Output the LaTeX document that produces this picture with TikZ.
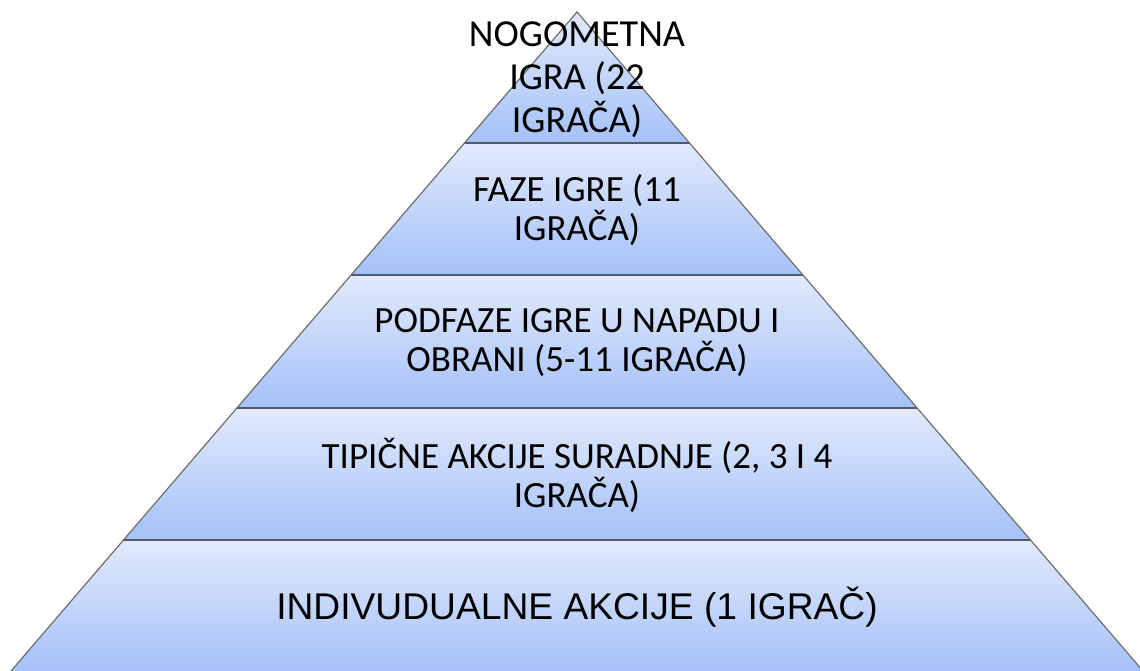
\documentclass[tikz,border=0pt]{standalone}
\usepackage{fontspec}
\newfontfamily\calibfont{Carlito}
\newfontfamily\arialfont{Liberation Sans}
\definecolor{bandtop}{RGB}{226,234,252}
\definecolor{bandbot}{RGB}{164,193,248}
\definecolor{sepcol}{RGB}{80,90,106}
\definecolor{edgecol}{RGB}{110,110,110}
\begin{document}
\begin{tikzpicture}[x=1pt,y=-1pt,
  band/.style={top color=bandtop,bottom color=bandbot},
  sepline/.style={draw=sepcol,line width=2.8pt},
  edge/.style={draw=edgecol,line width=1.2pt},
  lbl/.style={align=center,text=black,inner sep=0pt},
  cal/.style={lbl,font=\fontsize{37}{39}\calibfont},
  calt/.style={lbl,font=\fontsize{38.2}{43}\calibfont},
  ari/.style={lbl,font=\fontsize{37.2}{42}\arialfont}]
\useasboundingbox (0,0) rectangle (1140,671);
% boundary coordinates
\coordinate (apex) at (577,12);
\coordinate (l1) at (464.5,143); \coordinate (r1) at (689.5,143);
\coordinate (l2) at (351.1,275); \coordinate (r2) at (802.9,275);
\coordinate (l3) at (236.7,408); \coordinate (r3) at (917.3,408);
\coordinate (l4) at (123.4,540); \coordinate (r4) at (1030.6,540);
\coordinate (l5) at (11,671);   \coordinate (r5) at (1143,671);
% bands
\shade[band] (apex) -- (r1) -- (l1) -- cycle;
\shade[band] (l1) -- (r1) -- (r2) -- (l2) -- cycle;
\shade[band] (l2) -- (r2) -- (r3) -- (l3) -- cycle;
\shade[band] (l3) -- (r3) -- (r4) -- (l4) -- cycle;
\shade[band] (l4) -- (r4) -- (r5) -- (l5) -- cycle;
% separators
\draw[sepline] (l1) -- (r1);
\draw[sepline] (l2) -- (r2);
\draw[sepline] (l3) -- (r3);
\draw[sepline] (l4) -- (r4);
% outline
\draw[edge] (l5) -- (apex) -- (r5);
% labels
\node[calt] (t1) at (577,80) {NOGOMETNA\\IGRA (22\\IGRAČA)};
\node[cal] (t2) at (577,210) {FAZE IGRE (11\\IGRAČA)};
\node[cal] (t3) at (577,343) {PODFAZE IGRE U NAPADU I\\OBRANI (5-11 IGRAČA)};
\node[cal] (t4) at (577,475) {TIPIČNE AKCIJE SURADNJE (2, 3 I 4\\IGRAČA)};
\node[ari] (t5) at (577,607) {INDIVUDUALNE AKCIJE (1 IGRAČ)};
\end{tikzpicture}
\end{document}
